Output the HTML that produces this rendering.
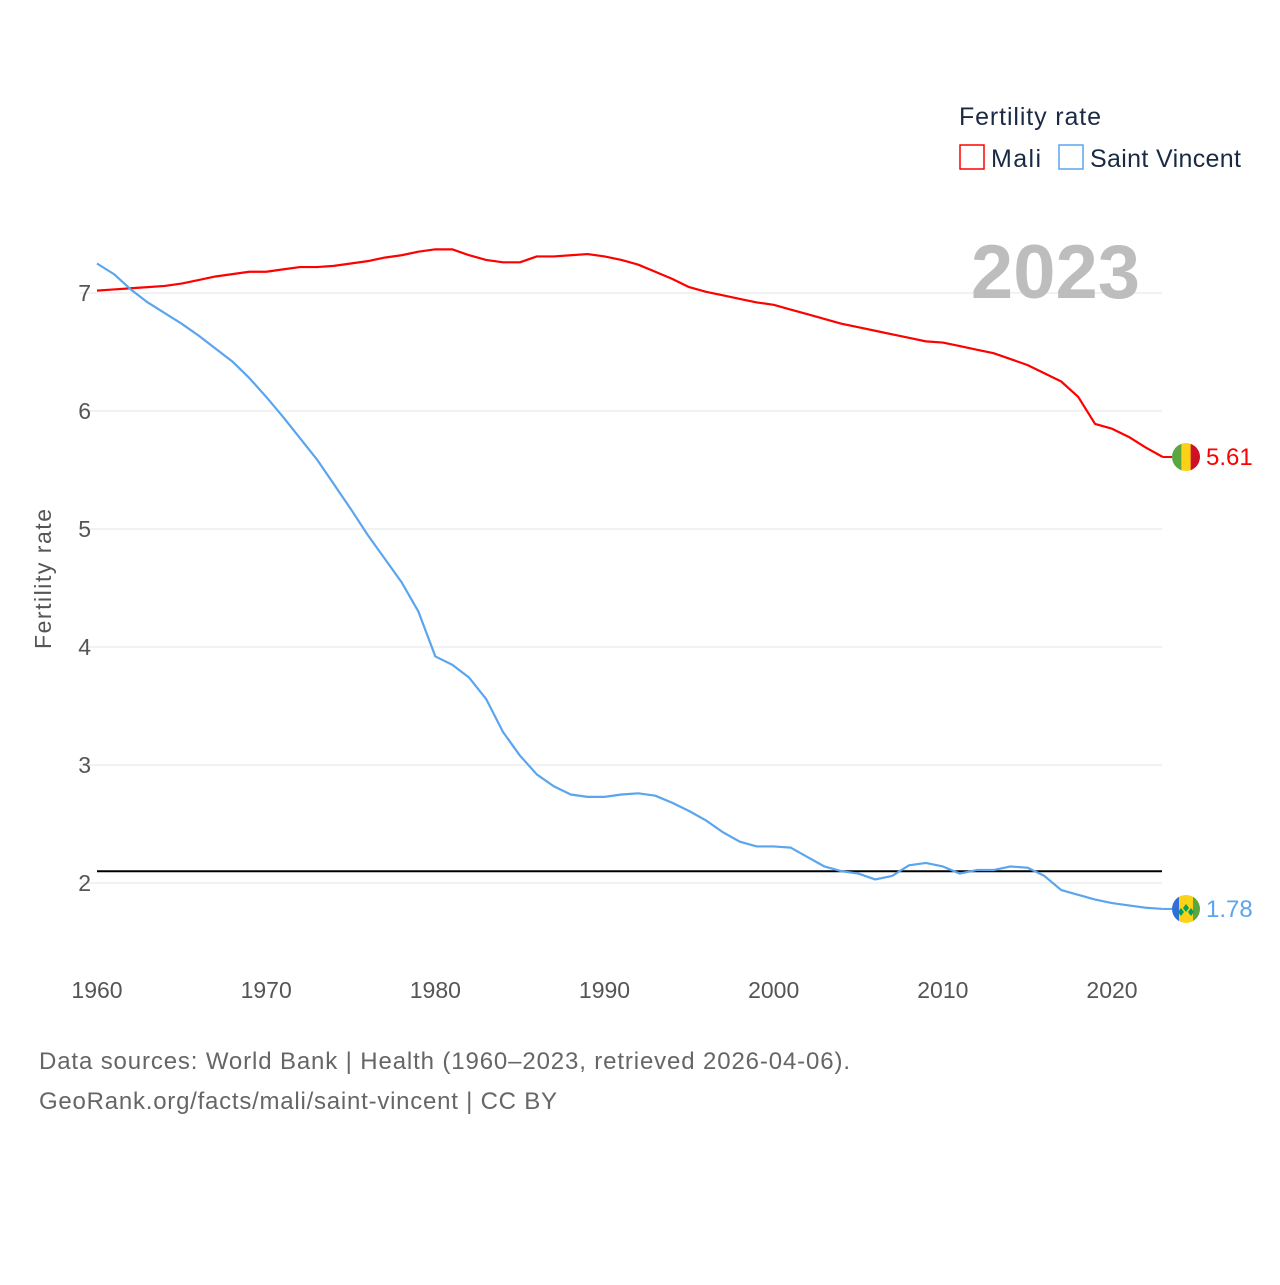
<!DOCTYPE html>
<html><head><meta charset="utf-8"><style>
body{margin:0;background:#fff;font-family:"Liberation Sans",sans-serif;}
</style></head><body>
<svg width="1280" height="1280" xmlns="http://www.w3.org/2000/svg" font-family="Liberation Sans, sans-serif">
<g id="grid"></g>
<g id="yt"></g>
<g id="xt"></g>
<text transform="translate(51,579) rotate(-90)" text-anchor="middle" font-size="23" fill="#555" textLength="140">Fertility rate</text>
<text x="1140" y="298" text-anchor="end" font-size="76" font-weight="bold" fill="#bdbdbd">2023</text>
<g id="series"></g>
<text x="959" y="125" font-size="25" fill="#1a2a44" textLength="142">Fertility rate</text>
<g><rect x="960" y="145" width="24" height="24" fill="none" stroke="#f00" stroke-width="1.5"/><text x="991" y="167" font-size="25" fill="#1a2a44" textLength="50">Mali</text></g>
<g><rect x="1059" y="145" width="24" height="24" fill="none" stroke="#5aa5ee" stroke-width="1.5"/><text x="1090" y="167" font-size="25" fill="#1a2a44" textLength="151">Saint Vincent</text></g>
<text x="39" y="1069" font-size="24" fill="#666" textLength="811">Data sources: World Bank | Health (1960–2023, retrieved 2026-04-06).</text>
<text x="39" y="1109" font-size="24" fill="#666" textLength="518">GeoRank.org/facts/mali/saint-vincent | CC BY</text>
</svg>
<script>
const years=[];for(let y=1960;y<=2023;y++)years.push(y);
const mali=[7.02,7.03,7.04,7.05,7.06,7.08,7.11,7.14,7.16,7.18,7.18,7.20,7.22,7.22,7.23,7.25,7.27,7.30,7.32,7.35,7.37,7.37,7.32,7.28,7.26,7.26,7.31,7.31,7.32,7.33,7.31,7.28,7.24,7.18,7.12,7.05,7.01,6.98,6.95,6.92,6.90,6.86,6.82,6.78,6.74,6.71,6.68,6.65,6.62,6.59,6.58,6.55,6.52,6.49,6.44,6.39,6.32,6.25,6.12,5.89,5.85,5.78,5.69,5.61];
const svc=[7.25,7.16,7.03,6.92,6.83,6.74,6.64,6.53,6.42,6.28,6.12,5.95,5.77,5.59,5.38,5.17,4.95,4.75,4.55,4.30,3.92,3.85,3.74,3.56,3.28,3.08,2.92,2.82,2.75,2.73,2.73,2.75,2.76,2.74,2.68,2.61,2.53,2.43,2.35,2.31,2.31,2.30,2.22,2.14,2.10,2.08,2.03,2.06,2.15,2.17,2.14,2.08,2.11,2.11,2.14,2.13,2.06,1.94,1.90,1.86,1.83,1.81,1.79,1.78];
const yTicks=[2,3,4,5,6,7];
const xTicks=[1960,1970,1980,1990,2000,2010,2020];
const refValue=2.1;
const NS="http://www.w3.org/2000/svg";
const X=v=>97+(v-1960)*(1015/60);
const Y=v=>883-(v-2)*118;
function mk(t,a,p){const e=document.createElementNS(NS,t);for(const k in a)e.setAttribute(k,a[k]);p.appendChild(e);return e;}
const grid=document.getElementById('grid'),yt=document.getElementById('yt'),xt=document.getElementById('xt'),ser=document.getElementById('series');
yTicks.forEach(v=>{
 const l=mk('line',{x1:80,x2:1162,y1:Y(v),y2:Y(v),stroke:'#e6e6e6','stroke-width':1},grid);
 
 
 const t=mk('text',{x:91,y:Y(v)+8,'text-anchor':'end','font-size':23,fill:'#555'},yt);t.textContent=v;
 
 
});
xTicks.forEach(v=>{
 const t=mk('text',{x:X(v),y:998,'text-anchor':'middle','font-size':23,fill:'#555'},xt);t.textContent=v;
 
 
});
const ref=mk('line',{x1:97,x2:1162,y1:Y(refValue),y2:Y(refValue),stroke:'#000','stroke-width':2},ser);


function line(arr,col,name){
 const p=mk('polyline',{points:arr.map((v,i)=>X(years[i])+','+Y(v)).join(' '),fill:'none',stroke:col,'stroke-width':2.2,'stroke-linejoin':'round'},ser);
 
 
}
line(mali,'#f00','mali');line(svc,'#5aa5ee','saint-vincent');
function flag(v,cols,col,name,diam){
 const cx=1186,cy=Y(v),r=14;
 const g=mk('g',{},ser);
 
 
 mk('line',{x1:X(2023),x2:cx-r,y1:cy,y2:cy,stroke:col,'stroke-width':2},g);
 const id='c'+name;const cp=mk('clipPath',{id:id},g);mk('circle',{cx:cx,cy:cy,r:r},cp);
 const gg=mk('g',{'clip-path':'url(#'+id+')'},g);
 const w=[2*r/3,2*r/3,2*r/3];let x0=cx-r;
 if(diam){w[0]=r*0.5;w[1]=r;w[2]=r*0.5;}
 cols.forEach((c,i)=>{mk('rect',{x:x0,y:cy-r,width:w[i]+0.5,height:2*r,fill:c},gg);x0+=w[i];});
 if(diam){mk('path',{d:`M${cx} ${cy-5}l3 4-3 4-3-4z M${cx-5} ${cy-1}l3 4-3 4-3-4z M${cx+5} ${cy-1}l3 4-3 4-3-4z`,fill:'#009e60'},gg);}
 const t=mk('text',{x:1206,y:cy+8,'font-size':24,fill:col},g);t.textContent=v.toFixed(2);
 
 
}
flag(mali[mali.length-1],['#5aa640','#fcd116','#ce1126'],'#f00','mali',false);
flag(svc[svc.length-1],['#2f6fd6','#fcd116','#5aa640'],'#5aa5ee','saint-vincent',true);
</script>
</body></html>
